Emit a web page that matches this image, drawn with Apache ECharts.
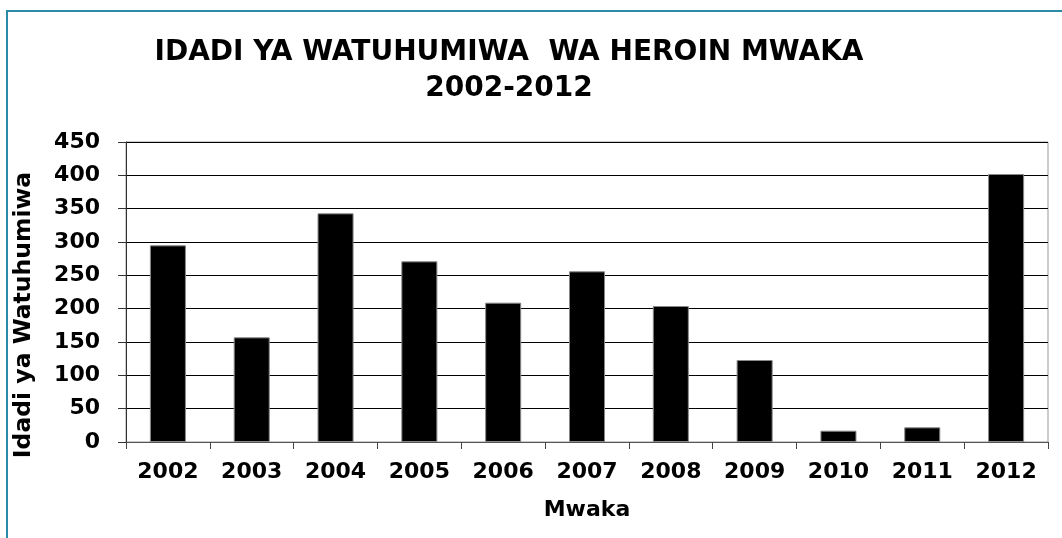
<!DOCTYPE html>
<html>
<head>
<meta charset="utf-8">
<script src="https://cdn.jsdelivr.net/npm/echarts@6/dist/echarts.min.js"></script>
<style>
  html, body { margin: 0; padding: 0; background: #fff; }
  #frame {
    position: absolute; left: 6px; top: 10px; width: 1070px; height: 540px;
    border: 2px solid #2b8ba6; box-sizing: border-box;
  }
  #myChart { position: absolute; left: 0; top: 0; width: 1062px; height: 538px; }
</style>
</head>
<body>
<div id="frame"></div>
<div id="myChart"></div>
<script>
// miaka (categories)
var years = ['2002', '2003', '2004', '2005', '2006', '2007', '2008', '2009', '2010', '2011', '2012'];
// idadi ya watuhumiwa kwa kila mwaka
var counts = [295, 157, 343, 271, 209, 256, 204, 123, 17, 22, 402];
var yTicks = [0, 50, 100, 150, 200, 250, 300, 350, 400, 450];

var font = 'DejaVu Sans, Verdana, sans-serif';
var myChart = echarts.init(document.getElementById('myChart'));
var option = {
  animation: false,
  title: {
    text: 'IDADI YA WATUHUMIWA  WA HEROIN MWAKA\n2002-2012',
    left: 504,
    top: 30,
    textAlign: 'center',
    textStyle: { fontFamily: font, fontSize: 28, fontWeight: 'bold', color: '#000', lineHeight: 36 }
  },
  grid: {
    left: 126, right: 14, top: 142, bottom: 96,
    show: true, borderColor: '#999', borderWidth: 1
  },
  xAxis: {
    type: 'category',
    data: years,
    name: 'Mwaka',
    nameLocation: 'middle',
    nameGap: 57,
    nameTextStyle: { fontFamily: font, fontSize: 22, fontWeight: 'bold', color: '#000' },
    axisLine: { lineStyle: { color: '#555', width: 1 } },
    axisTick: { show: true, length: 7, lineStyle: { color: '#444' } },
    axisLabel: { fontFamily: font, fontSize: 22, fontWeight: 'bold', color: '#000', margin: 19 }
  },
  yAxis: {
    type: 'value',
    min: yTicks[0],
    max: yTicks[yTicks.length - 1],
    interval: 50,
    name: 'Idadi ya Watuhumiwa',
    nameLocation: 'middle',
    nameGap: 90,
    nameTextStyle: { fontFamily: font, fontSize: 23.5, fontWeight: 'bold', color: '#000', padding: [0, 46, 0, 0] },
    axisLine: { show: true, lineStyle: { color: '#333', width: 1 } },
    axisTick: { show: true, length: 8, lineStyle: { color: '#333' } },
    axisLabel: { fontFamily: font, fontSize: 22, fontWeight: 'bold', color: '#000', margin: 26 },
    splitLine: { lineStyle: { color: '#000', width: 1 } }
  },
  series: [
    {
      name: 'Watuhumiwa',
      type: 'bar',
      barWidth: '43%',
      data: counts,
      itemStyle: { color: '#000', borderColor: '#888', borderWidth: 1 }
    }
  ]
};
myChart.setOption(option);
</script>
</body>
</html>
